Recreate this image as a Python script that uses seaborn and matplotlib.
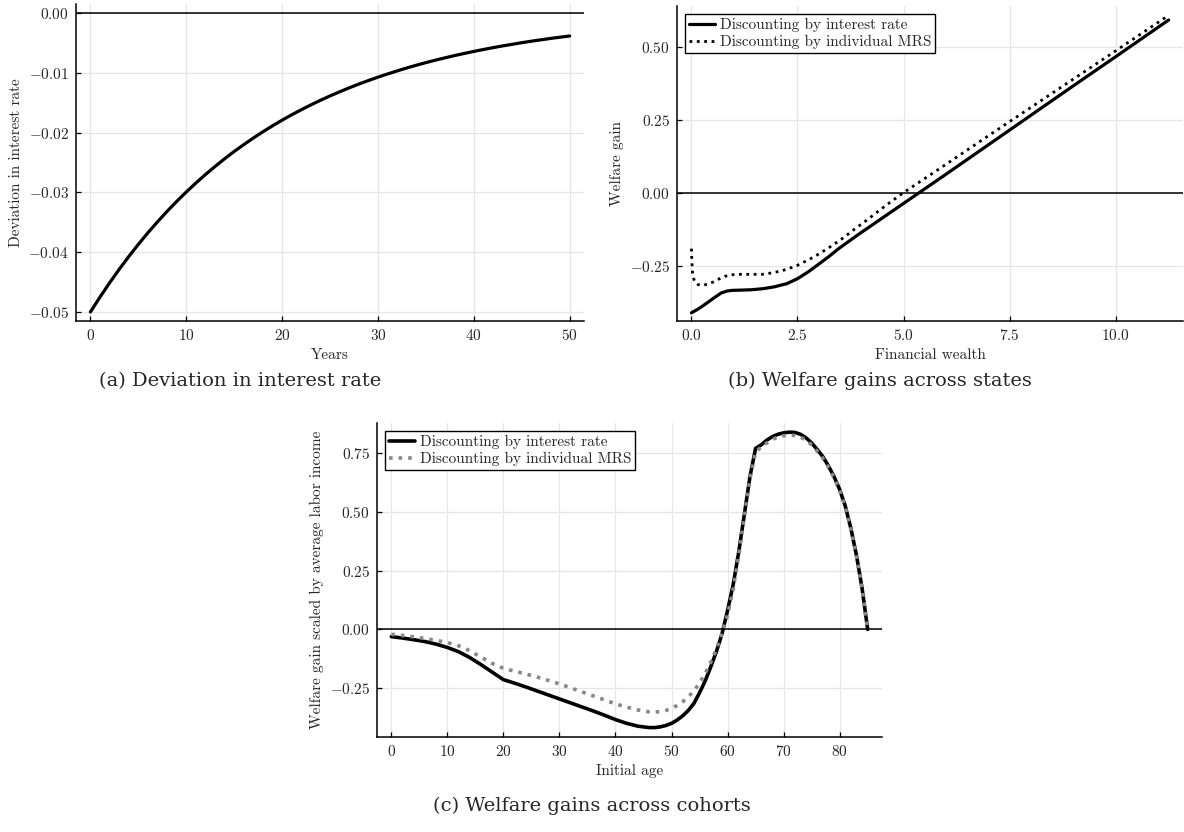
import numpy as np
import pandas as pd
import matplotlib
matplotlib.use("Agg")
import matplotlib.pyplot as plt
import seaborn as sns
from matplotlib.ticker import FuncFormatter

# ── data ───────────────────────────────────────────────────────
years = list(range(0, 51))
rate_dev = [-0.05000, -0.04750, -0.04513, -0.04287, -0.04073, -0.03869,
            -0.03675, -0.03492, -0.03317, -0.03151, -0.02994, -0.02844,
            -0.02702, -0.02567, -0.02438, -0.02316, -0.02201, -0.02091,
            -0.01986, -0.01887, -0.01792, -0.01703, -0.01618, -0.01537,
            -0.01460, -0.01387, -0.01318, -0.01252, -0.01189, -0.01130,
            -0.01073, -0.01020, -0.00969, -0.00920, -0.00874, -0.00830,
            -0.00789, -0.00750, -0.00712, -0.00677, -0.00643, -0.00611,
            -0.00580, -0.00551, -0.00524, -0.00497, -0.00472, -0.00449,
            -0.00426, -0.00405, -0.00385]

wealth_r = [0.0, 0.17, 0.34, 0.52, 0.70, 0.85, 0.97, 1.2, 1.41, 1.7, 1.95,
            2.25, 2.5, 2.75, 3.02, 3.25, 3.47, 3.7, 3.92, 4.2, 4.45, 4.7,
            5.0, 5.37, 6.0, 7.0, 8.0, 9.0, 10.0, 11.25]
gain_r = [-0.412, -0.398, -0.381, -0.362, -0.344, -0.337, -0.335, -0.334,
          -0.333, -0.329, -0.323, -0.312, -0.295, -0.272, -0.243, -0.218,
          -0.192, -0.168, -0.145, -0.117, -0.092, -0.067, -0.037, 0.0,
          0.063, 0.164, 0.265, 0.366, 0.466, 0.592]

wealth_m = [0.0, 0.01, 0.03, 0.08, 0.15, 0.25, 0.38, 0.52, 0.65, 0.79,
            0.92, 1.06, 1.4, 1.68, 1.9, 2.13, 2.3, 2.5, 2.75, 3.02, 3.3,
            3.56, 3.8, 4.1, 4.35, 4.62, 5.0, 6.0, 7.0, 8.0, 9.0, 10.0, 11.25]
gain_m = [-0.192, -0.235, -0.285, -0.306, -0.315, -0.318, -0.314, -0.306,
          -0.296, -0.287, -0.282, -0.280, -0.280, -0.280, -0.275, -0.268,
          -0.260, -0.249, -0.231, -0.209, -0.183, -0.157, -0.130, -0.098,
          -0.070, -0.040, 0.0, 0.097, 0.195, 0.292, 0.389, 0.486, 0.608]

ages = [0, 2, 4, 6, 8, 10, 12, 14, 16, 18, 20, 22, 24, 26, 28, 30, 32, 34,
        36, 38, 40, 42, 44, 46, 47, 48, 49, 50, 51, 52, 53, 54, 55, 56, 57,
        58, 59, 60, 61, 62, 63, 64, 65, 66, 67, 68, 69, 70, 71, 72, 73, 74,
        75, 76, 77, 78, 79, 80, 81, 82, 83, 84, 85]
cohort_r = [-0.031, -0.037, -0.044, -0.052, -0.063, -0.077, -0.095, -0.120,
            -0.150, -0.182, -0.214, -0.229, -0.245, -0.262, -0.279, -0.296,
            -0.313, -0.330, -0.347, -0.365, -0.384, -0.400, -0.412, -0.418,
            -0.418, -0.415, -0.409, -0.400, -0.386, -0.368, -0.345, -0.315,
            -0.270, -0.220, -0.160, -0.095, -0.020, 0.080, 0.190, 0.330,
            0.490, 0.650, 0.770, 0.785, 0.805, 0.820, 0.830, 0.836, 0.839,
            0.838, 0.830, 0.815, 0.793, 0.765, 0.735, 0.695, 0.650, 0.595,
            0.525, 0.430, 0.315, 0.175, 0.0]
cohort_m = [-0.021, -0.026, -0.032, -0.039, -0.047, -0.056, -0.070, -0.091,
            -0.118, -0.145, -0.166, -0.178, -0.190, -0.203, -0.217, -0.232,
            -0.249, -0.266, -0.283, -0.300, -0.317, -0.331, -0.343, -0.351,
            -0.352, -0.350, -0.345, -0.336, -0.324, -0.308, -0.287, -0.262,
            -0.228, -0.188, -0.140, -0.085, -0.018, 0.062, 0.170, 0.315,
            0.480, 0.640, 0.755, 0.775, 0.793, 0.808, 0.818, 0.824, 0.826,
            0.825, 0.818, 0.805, 0.785, 0.758, 0.728, 0.690, 0.645, 0.590,
            0.520, 0.427, 0.312, 0.173, 0.0]

lab_r = "Discounting by interest rate"
lab_m = "Discounting by individual MRS"

# ── style ──────────────────────────────────────────────────────
sns.set_style("whitegrid")
plt.rcParams["font.family"] = ["cmr10"]
plt.rcParams["mathtext.fontset"] = "cm"
plt.rcParams["axes.unicode_minus"] = True

fig = plt.figure(figsize=(11.84, 8.32), dpi=100)
ax_a = fig.add_axes([0.0642, 0.6142, 0.4291, 0.3810])
ax_b = fig.add_axes([0.5718, 0.6142, 0.4274, 0.3786])
ax_c = fig.add_axes([0.3184, 0.1142, 0.4265, 0.3774])

def style(ax):
    for s in ["top", "right"]:
        ax.spines[s].set_visible(False)
    for s in ["left", "bottom"]:
        ax.spines[s].set_color("black")
        ax.spines[s].set_linewidth(1.1)
    ax.grid(True, color="#e6e6e6", lw=0.9)
    ax.tick_params(direction="in", length=3.5, width=0.9, color="black",
                   labelsize=11, pad=5, left=True, bottom=True)
    ax.axhline(0, color="black", lw=1.1, zorder=1)

def fmt(dec):
    return FuncFormatter(lambda v, p: "$%.*f$" % (dec, v))

def legend(ax):
    leg = ax.legend(loc="upper left", frameon=True, fancybox=False,
                    edgecolor="black", framealpha=1, fontsize=11,
                    handlelength=1.7, handletextpad=0.3, borderpad=0.25,
                    labelspacing=0.15, borderaxespad=0.55)
    leg.get_frame().set_linewidth(1.0)

# (a)
sns.lineplot(x=years, y=rate_dev, ax=ax_a, color="black", lw=2.3)
style(ax_a)
ax_a.set_xlim(-1.5, 51.5)
ax_a.set_ylim(-0.0515, 0.0015)
ax_a.set_xticks([0, 10, 20, 30, 40, 50])
ax_a.set_yticks([-0.05, -0.04, -0.03, -0.02, -0.01, 0.0])
ax_a.xaxis.set_major_formatter(fmt(0))
ax_a.yaxis.set_major_formatter(fmt(2))
ax_a.set_xlabel("Years", fontsize=11)
ax_a.set_ylabel("Deviation in interest rate", fontsize=11)

# (b)
sns.lineplot(x=wealth_r, y=gain_r, ax=ax_b, color="black", lw=2.3, label=lab_r)
sns.lineplot(x=wealth_m, y=gain_m, ax=ax_b, color="black", lw=2.0,
             linestyle=":", label=lab_m)
style(ax_b)
ax_b.set_xlim(-0.34, 11.59)
ax_b.set_ylim(-0.44, 0.64)
ax_b.set_xticks([0, 2.5, 5, 7.5, 10])
ax_b.set_yticks([-0.25, 0, 0.25, 0.5])
ax_b.xaxis.set_major_formatter(fmt(1))
ax_b.yaxis.set_major_formatter(fmt(2))
ax_b.set_xlabel("Financial wealth", fontsize=11)
ax_b.set_ylabel("Welfare gain", fontsize=11)
legend(ax_b)

# (c)
sns.lineplot(x=ages, y=cohort_r, ax=ax_c, color="black", lw=2.6, label=lab_r)
sns.lineplot(x=ages, y=cohort_m, ax=ax_c, color="#888888", lw=2.6,
             linestyle=":", label=lab_m)
style(ax_c)
ax_c.set_xlim(-2.55, 87.55)
ax_c.set_ylim(-0.458, 0.878)
ax_c.set_xticks(list(range(0, 81, 10)))
ax_c.set_yticks([-0.25, 0, 0.25, 0.5, 0.75])
ax_c.xaxis.set_major_formatter(fmt(0))
ax_c.yaxis.set_major_formatter(fmt(2))
ax_c.set_xlabel("Initial age", fontsize=11)
ax_c.set_ylabel("Welfare gain scaled by average labor income", fontsize=11)
legend(ax_c)

# captions
cap = dict(ha="center", va="center", fontsize=14, family=["DejaVu Serif"])
fig.text(240 / 1184, 1 - 381 / 832, "(a) Deviation in interest rate", **cap)
fig.text(880 / 1184, 1 - 381 / 832, "(b) Welfare gains across states", **cap)
fig.text(592 / 1184, 1 - 806 / 832, "(c) Welfare gains across cohorts", **cap)

fig.savefig("out.png", dpi=100)
